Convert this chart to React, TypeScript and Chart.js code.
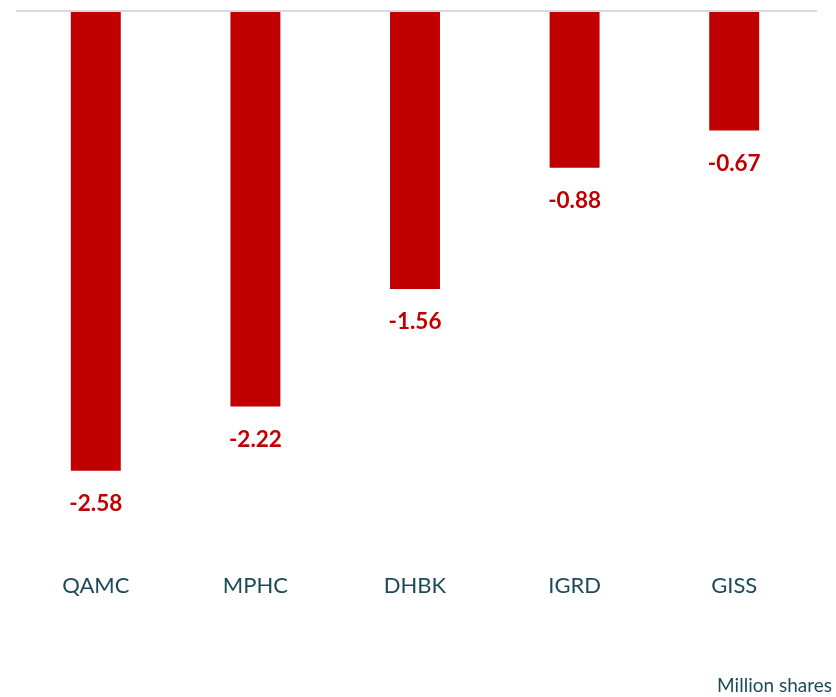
import React, { useEffect, useRef } from "react";
import { Chart, registerables } from "chart.js";

Chart.register(...registerables);

const categories = ["QAMC", "MPHC", "DHBK", "IGRD", "GISS"];
const values = [-2.58, -2.22, -1.56, -0.88, -0.67];
const unitLabel = "Million shares";

const RED = "#c00000";
const TEAL = "#1d4a5a";
const FONT = "Lato, 'Open Sans', sans-serif";

export default function App() {
  const ref = useRef<HTMLCanvasElement | null>(null);

  useEffect(() => {
    document.body.style.margin = "0";
    const canvas = ref.current;
    if (!canvas) return;

    const overlay = {
      id: "overlay",
      afterDatasetsDraw(chart: any) {
        const { ctx, chartArea, scales } = chart;
        const y0 = scales.y.getPixelForValue(0);
        ctx.save();
        ctx.strokeStyle = "#d9d9d9";
        ctx.lineWidth = 2;
        ctx.beginPath();
        ctx.moveTo(chartArea.left, y0);
        ctx.lineTo(chartArea.right + 3, y0);
        ctx.stroke();

        const meta = chart.getDatasetMeta(0);
        ctx.fillStyle = RED;
        ctx.font = `bold 22.5px ${FONT}`;
        ctx.textAlign = "center";
        ctx.textBaseline = "middle";
        meta.data.forEach((bar: any, i: number) => {
          ctx.fillText(values[i].toFixed(2), bar.x, bar.y + 33);
        });

        ctx.fillStyle = TEAL;
        ctx.font = `19px ${FONT}`;
        ctx.textAlign = "right";
        ctx.textBaseline = "middle";
        ctx.fillText(unitLabel, chart.width - 4, 686);
        ctx.restore();
      },
    };

    const chart = new Chart(canvas, {
      type: "bar",
      data: {
        labels: categories,
        datasets: [
          {
            data: values,
            backgroundColor: RED,
            borderWidth: 0,
            categoryPercentage: 1,
            barPercentage: 0.313,
          },
        ],
      },
      options: {
        animation: false,
        responsive: false,
        maintainAspectRatio: false,
        layout: { padding: { top: 11, left: 16, right: 22, bottom: 73.5 } },
        plugins: {
          legend: { display: false },
          tooltip: { enabled: false },
        },
        scales: {
          x: {
            grid: { display: false, drawTicks: false },
            border: { display: false },
            ticks: {
              color: TEAL,
              font: { family: FONT, size: 22 },
              padding: 24,
            },
          },
          y: {
            display: false,
            min: -3.02,
            max: 0,
          },
        },
      },
      plugins: [overlay],
    });
    return () => chart.destroy();
  }, []);

  return (
    <div style={{ position: "absolute", left: 0, top: 0, width: 836, height: 697 }}>
      <canvas ref={ref} width={836} height={697} style={{ width: 836, height: 697 }} />
    </div>
  );
}
